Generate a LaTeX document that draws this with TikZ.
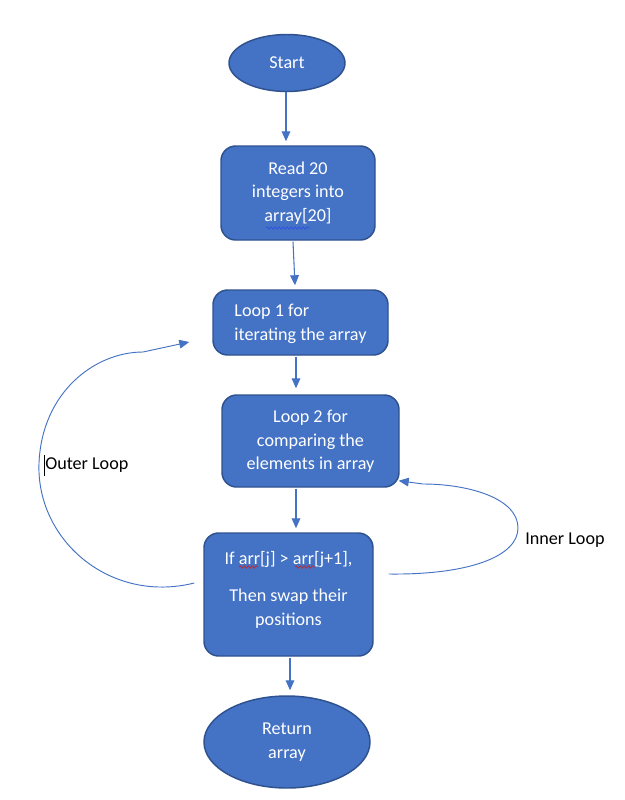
\documentclass[tikz,border=0pt]{standalone}
\usepackage{fontspec}
\setmainfont{Carlito}
\usetikzlibrary{arrows.meta,calc,decorations.pathmorphing,shapes.geometric}
\definecolor{boxfill}{HTML}{4472C4}
\definecolor{boxline}{HTML}{2F528F}
\definecolor{conn}{HTML}{4472C4}
\definecolor{spellred}{HTML}{D02020}
\definecolor{spellblue}{HTML}{3050E0}
\begin{document}
\begin{tikzpicture}[x=0.75pt,y=-0.75pt,
  font=\fontsize{13.6}{17.8}\selectfont,
  shapebase/.style={fill=boxfill,draw=boxline,line width=1.1pt,text=white,align=center,inner sep=0pt},
  rbox/.style={shapebase,rectangle,rounded corners=11pt},
  oval/.style={shapebase,ellipse},
  conn/.style={draw=conn,line width=0.8pt,-{Triangle[length=7.5pt,width=6.5pt]}},
  loopline/.style={draw=conn,line width=0.7pt,-{Triangle[length=7.5pt,width=6.5pt]}},
  lbl/.style={text=black,inner sep=0pt,anchor=west},
  wavy/.style={decorate,decoration={snake,amplitude=0.9pt,segment length=3pt},line width=0.5pt}
]
\useasboundingbox (0,0) rectangle (625,800);
\fill[white] (0,0) rectangle (625,800);

\node[oval,minimum width=87pt,minimum height=42.75pt] (start) at (287,63) {Start};
\node[rbox,minimum width=115.5pt,minimum height=70.5pt] (read) at (298,193) {Read 20\\integers into\\array[20]};
\node[rbox,minimum width=131.25pt,minimum height=48.75pt,align=left] (loopa) at (300.5,322.5) {Loop 1 for\\iterating the array\\[-22.3pt]\strut};
\node[rbox,minimum width=132.75pt,minimum height=69pt] (loopb) at (310.5,441) {Loop 2 for\\comparing the\\elements in array\\[-21.6pt]\strut};
\node[rbox,minimum width=126.75pt,minimum height=92.25pt] (cmp) at (288.5,594.5) {If arr[j] > arr[j+1],\\[10.5pt]Then swap their\\positions\\[-14pt]\strut};
\node[oval,minimum width=124.5pt,minimum height=69pt] (ret) at (287,742) {Return\\array};

% straight connectors
\draw[conn] ($(start.south)+(-1,0)$) -- ($(read.north)+(-12,-4)$);
\draw[conn] ($(read.south)+(-5,1)$) -- ($(loopa.north)+(-5.5,-4)$);
\draw[conn] ($(loopa.south)+(-4.5,1)$) -- ($(loopb.north)+(-14.5,-6)$);
\draw[conn] ($(loopb.south)+(-14.5,1)$) -- ($(cmp.north)+(7.5,-4)$);
\draw[conn] ($(cmp.south)+(1.5,1)$) -- ($(ret.north)+(3,-5)$);

% outer loop
\draw[loopline] ($(cmp.west)+(-9,-11.5)$) .. controls (110,604) and (36,540) .. (39,463)
  .. controls (42,392) and (95,352) .. (143,352) -- ($(loopa.west)+(-23,19.5)$);
\node[lbl] (outer) at (45,465) {Outer Loop};
\draw[black,line width=0.6pt] (44,455) -- (44,476);

% inner loop
\draw[loopline] ($(cmp.east)+(15,-20.5)$) .. controls (470,575) and (518,556) .. (518,528)
  .. controls (518,498) and (468,484) .. (423,484) -- ($(loopb.south east)+(-1,-7)$);
\node[lbl] (inner) at (525,540) {Inner Loop};

% spell-check underlines
\draw[spellblue,wavy] (266,228) -- (310,228);
\draw[spellred,wavy] (239,567) -- (258,567);
\draw[spellred,wavy] (295,567) -- (315,567);
\end{tikzpicture}
\end{document}
